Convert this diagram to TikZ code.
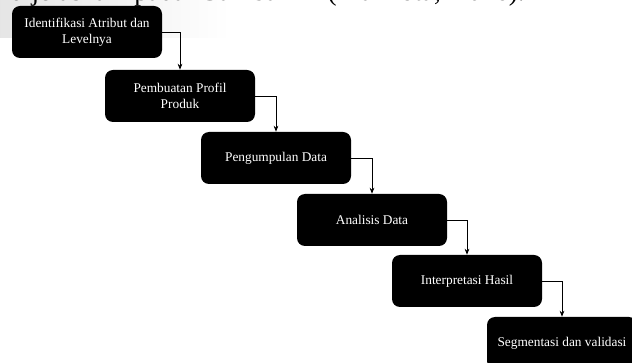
\documentclass[tikz,border=0pt]{standalone}
\usepackage{fontspec}
\setmainfont{Liberation Serif}
\usetikzlibrary{arrows.meta}
\begin{document}
\begin{tikzpicture}[x=0.75pt,y=-0.75pt,
  stepbox/.style={fill=black,text=white,rounded corners=6pt,minimum width=112.5pt,minimum height=39pt,inner sep=0pt,align=center,font=\fontsize{10}{12}\selectfont},
  arr/.style={draw=black,line width=0.6pt,-{Stealth[length=4.5pt,width=3.5pt]}}]
\useasboundingbox (0,0) rectangle (632,363);
\clip (0,0) rectangle (632,363);
\fill[left color=black!10,right color=white] (0,0) rectangle (230,38);
\node[anchor=base west,inner sep=0pt,font=\fontsize{20.5}{24}\selectfont] (top) at (10,0.5) {\spaceskip=10pt plus 1pt dijelaskan pada Gambar 4 (Makhota, 2016).};
\node[stepbox] (b1) at (87,32) {Identifikasi Atribut dan\\Levelnya};
\node[stepbox] (b2) at (180,96) {Pembuatan Profil\\Produk};
\node[stepbox] (b3) at (276,158) {Pengumpulan Data};
\node[stepbox] (b4) at (372,220) {Analisis Data};
\node[stepbox] (b5) at (467,281) {Interpretasi Hasil};
\node[stepbox] (b6) at (562,343) {Segmentasi dan validasi};
\draw[arr] (b1.east) -| (b2.north);
\draw[arr] (b2.east) -| (b3.north);
\draw[arr] (b3.east) -| (b4.north);
\draw[arr] (b4.east) -| (b5.north);
\draw[arr] (b5.east) -| (b6.north);
\end{tikzpicture}
\end{document}
